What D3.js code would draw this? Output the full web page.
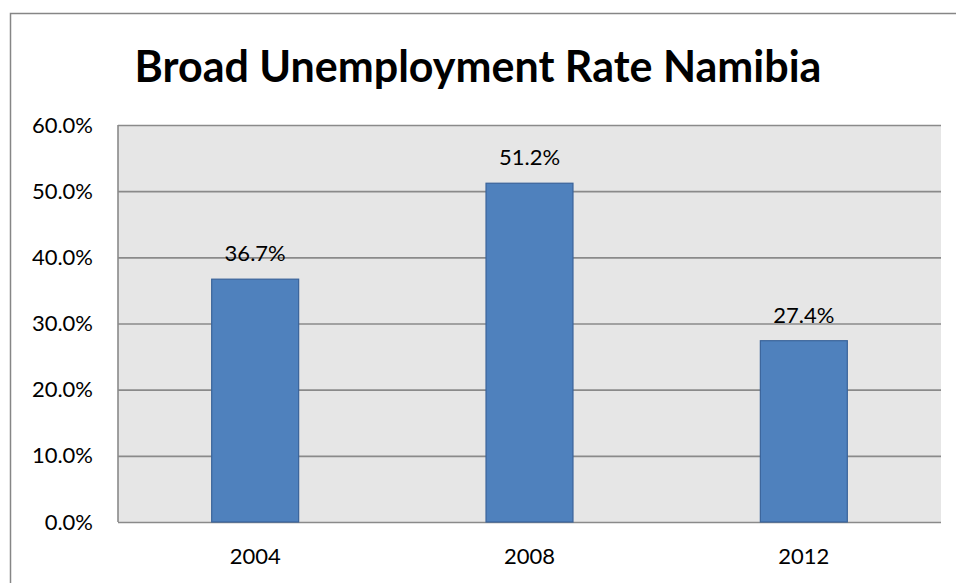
<!DOCTYPE html>
<html>
<head>
<meta charset="utf-8">
<script src="https://cdn.jsdelivr.net/npm/d3@7"></script>
<style>
  html, body { margin: 0; padding: 0; background: #fff; }
  svg { display: block; }
  text { font-family: Lato, "Open Sans", sans-serif; fill: #000; }
</style>
</head>
<body>
<svg id="chart" width="956" height="583"></svg>
<script>
const title = "Broad Unemployment Rate Namibia";
const categories = ["2004", "2008", "2012"];
const values = [36.7, 51.2, 27.4];
const yTicks = [0, 10, 20, 30, 40, 50, 60];

const W = 956, H = 583;
const margin = { left: 118, top: 125, right: 15, bottom: 61 };
const svg = d3.select("#chart");

// outer chart border (left and top visible)
svg.append("path")
  .attr("d", `M10.5,${H} V13.5 H${W}`)
  .attr("fill", "none").attr("stroke", "#868686").attr("stroke-width", 1.5);

const x = d3.scaleBand().domain(categories)
  .range([margin.left, W - margin.right]).paddingInner(0.683).paddingOuter(0.3415);
const y = d3.scaleLinear().domain([0, 60]).range([H - margin.bottom, margin.top]);

// plot background
svg.append("rect")
  .attr("x", margin.left).attr("y", margin.top)
  .attr("width", W - margin.right - margin.left)
  .attr("height", y(0) - y(60))
  .attr("fill", "#E6E6E6");

// gridlines
const yAxisGrid = d3.axisLeft(y).tickValues(yTicks)
  .tickSize(-(W - margin.right - margin.left)).tickFormat("");
svg.append("g").attr("transform", `translate(${margin.left},0)`)
  .call(yAxisGrid)
  .call(g => g.select(".domain").remove())
  .call(g => g.selectAll("line").attr("stroke", "#8A8A8A").attr("stroke-width", 1.6));

// left axis line
svg.append("line")
  .attr("x1", margin.left).attr("x2", margin.left)
  .attr("y1", y(60)).attr("y2", y(0))
  .attr("stroke", "#8A8A8A").attr("stroke-width", 1.6);

// y tick labels
const yAxis = d3.axisLeft(y).tickValues(yTicks).tickSize(0).tickPadding(25)
  .tickFormat(d => d.toFixed(1) + "%");
svg.append("g").attr("transform", `translate(${margin.left},0)`)
  .call(yAxis)
  .call(g => g.select(".domain").remove())
  .call(g => g.selectAll("text").attr("font-size", 22).attr("font-family", "Lato, sans-serif").attr("fill", "#000"));

// bars
svg.append("g").selectAll("rect").data(values).join("rect")
  .attr("x", (d, i) => x(categories[i]))
  .attr("y", d => y(d))
  .attr("width", x.bandwidth())
  .attr("height", d => y(0) - y(d))
  .attr("fill", "#4F81BD")
  .attr("stroke", "#3A639A").attr("stroke-width", 1.2);

// value labels
svg.append("g").selectAll("text").data(values).join("text")
  .attr("x", (d, i) => x(categories[i]) + x.bandwidth() / 2)
  .attr("y", d => y(d) - 18)
  .attr("text-anchor", "middle")
  .attr("font-size", 22)
  .text(d => d.toFixed(1) + "%");

// x axis
const xAxis = d3.axisBottom(x).tickSize(0).tickPadding(26);
svg.append("g").attr("transform", `translate(0,${y(0)})`)
  .call(xAxis)
  .call(g => g.select(".domain").remove())
  .call(g => g.selectAll("text").attr("font-size", 22).attr("font-family", "Lato, sans-serif").attr("fill", "#000"));

// title
svg.append("text")
  .attr("x", 478).attr("y", 82)
  .attr("text-anchor", "middle")
  .attr("font-size", 43).attr("font-weight", "bold")
  .text(title);
</script>
</body>
</html>
